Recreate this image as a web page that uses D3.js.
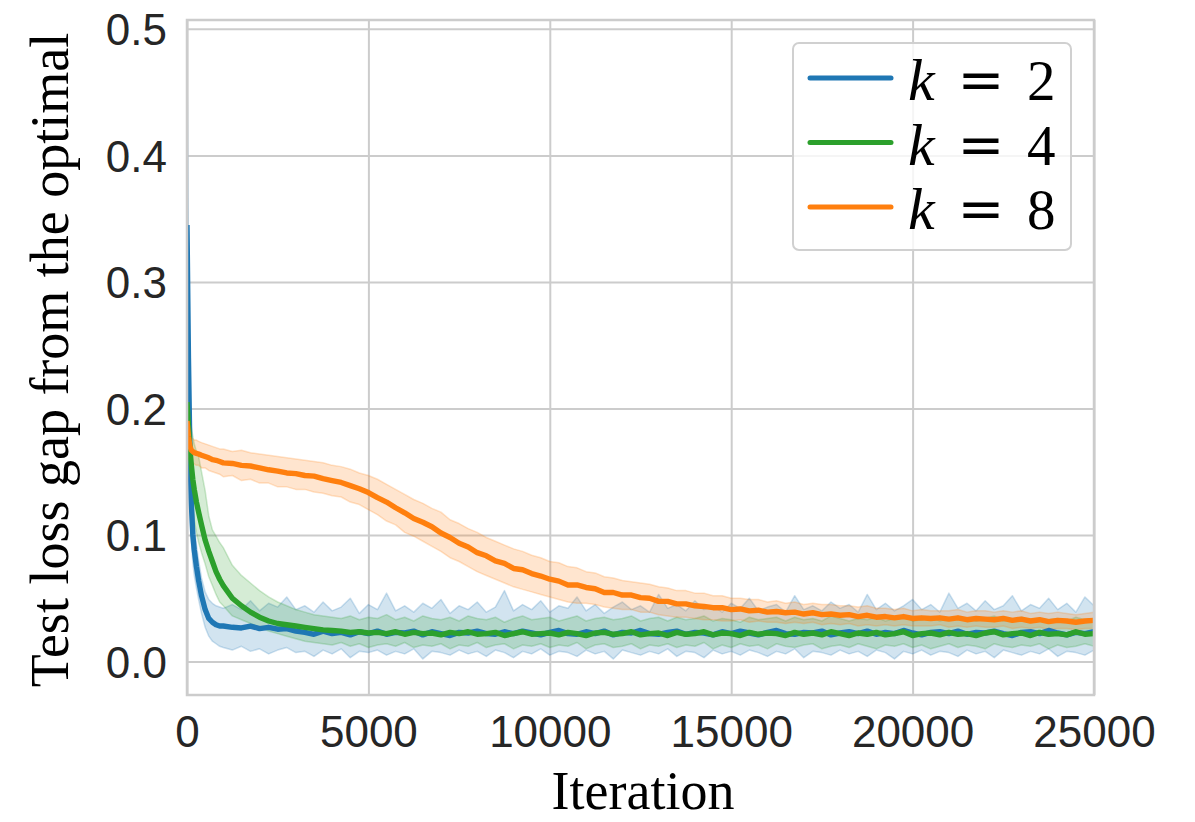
<!DOCTYPE html>
<html>
<head>
<meta charset="utf-8">
<script src="https://cdn.jsdelivr.net/npm/d3@7"></script>
<style>
  html, body { margin: 0; padding: 0; background: #ffffff; }
  svg { display: block; }
</style>
</head>
<body>
<svg id="chart" width="1195" height="822"></svg>
<script>
// ---- data -------------------------------------------------------------
const iterations = [
  0, 40, 80, 120, 160, 200, 260, 320, 400, 500, 600, 700, 800, 900,
  1000, 1250, 1500, 1750, 2000, 2250, 2500, 2750, 3000,
  3250, 3500, 3750, 4000, 4250, 4500, 4750, 5000,
  5250, 5500, 5750, 6000, 6250, 6500, 6750, 7000,
  7250, 7500, 7750, 8000, 8250, 8500, 8750, 9000,
  9250, 9500, 9750, 10000, 10250, 10500, 10750, 11000,
  11250, 11500, 11750, 12000, 12250, 12500, 12750, 13000,
  13250, 13500, 13750, 14000, 14250, 14500, 14750, 15000,
  15250, 15500, 15750, 16000, 16250, 16500, 16750, 17000,
  17250, 17500, 17750, 18000, 18250, 18500, 18750, 19000,
  19250, 19500, 19750, 20000, 20250, 20500, 20750, 21000,
  21250, 21500, 21750, 22000, 22250, 22500, 22750, 23000,
  23250, 23500, 23750, 24000, 24250, 24500, 24750, 25000
];

// k = 2: mean test-loss gap and its confidence band
const gapK2 = [
  0.345, 0.24, 0.165, 0.125, 0.100, 0.088, 0.075, 0.064, 0.052, 0.041, 0.034, 0.031, 0.029, 0.028,
  0.028, 0.027, 0.0265, 0.028, 0.026, 0.027, 0.0255, 0.026, 0.024,
  0.023, 0.0215, 0.024, 0.022, 0.023, 0.021, 0.0235, 0.022,
  0.024, 0.0215, 0.023, 0.0225, 0.024, 0.021, 0.0235, 0.022,
  0.0205, 0.023, 0.0225, 0.024, 0.022, 0.0215, 0.0235, 0.022,
  0.024, 0.0225, 0.021, 0.023, 0.0245, 0.022, 0.0215, 0.0235,
  0.022, 0.024, 0.021, 0.023, 0.0225, 0.0245, 0.022, 0.0215,
  0.023, 0.024, 0.0215, 0.023, 0.0225, 0.021, 0.0235, 0.022,
  0.024, 0.0225, 0.021, 0.023, 0.0245, 0.022, 0.0215, 0.023,
  0.0225, 0.024, 0.021, 0.0225, 0.0235, 0.022, 0.024, 0.0215,
  0.023, 0.022, 0.0245, 0.0225, 0.021, 0.023, 0.0235, 0.022,
  0.024, 0.0215, 0.023, 0.0225, 0.024, 0.022, 0.0205, 0.023,
  0.0235, 0.022, 0.0245, 0.0225, 0.021, 0.023, 0.022, 0.0235
];
const gapK2Lower = [
  0.21, 0.17, 0.12, 0.095, 0.078, 0.068, 0.058, 0.049, 0.038, 0.027, 0.020, 0.016, 0.014, 0.012,
  0.011, 0.009, 0.012, 0.008, 0.010, 0.006, 0.009, 0.011, 0.007,
  0.008, 0.004, 0.009, 0.006, 0.010, 0.003, 0.008, 0.007,
  0.009, 0.005, 0.008, 0.006, 0.010, 0.002, 0.008, 0.007,
  0.005, 0.009, 0.006, 0.008, 0.004, 0.009, 0.007, 0.003,
  0.008, 0.006, 0.010, 0.005, 0.008, 0.007, 0.004, 0.009,
  0.006, 0.008, 0.002, 0.009, 0.007, 0.005, 0.008, 0.006,
  0.010, 0.004, 0.008, 0.007, 0.003, 0.009, 0.006, 0.008,
  0.005, 0.009, 0.007, 0.004, 0.008, 0.006, 0.010, 0.003,
  0.008, 0.007, 0.005, 0.009, 0.006, 0.008, 0.004, 0.009,
  0.007, 0.002, 0.008, 0.006, 0.009, 0.005, 0.008, 0.007,
  0.004, 0.009, 0.006, 0.008, 0.003, 0.009, 0.007, 0.005,
  0.008, 0.006, 0.010, 0.004, 0.008, 0.007, 0.005, 0.009
];
const gapK2Upper = [
  0.48, 0.32, 0.22, 0.16, 0.125, 0.108, 0.092, 0.080, 0.066, 0.055, 0.049, 0.046, 0.044, 0.043,
  0.042, 0.045, 0.041, 0.048, 0.040, 0.046, 0.043, 0.051, 0.041,
  0.044, 0.039, 0.047, 0.040, 0.043, 0.050, 0.038, 0.045,
  0.041, 0.054, 0.040, 0.044, 0.039, 0.046, 0.042, 0.049,
  0.038, 0.044, 0.041, 0.047, 0.039, 0.043, 0.056, 0.040,
  0.045, 0.041, 0.048, 0.039, 0.044, 0.042, 0.051, 0.040,
  0.045, 0.038, 0.043, 0.047, 0.041, 0.044, 0.039, 0.053,
  0.042, 0.045, 0.040, 0.048, 0.041, 0.044, 0.039, 0.046,
  0.042, 0.050, 0.040, 0.043, 0.045, 0.039, 0.052, 0.041,
  0.044, 0.040, 0.047, 0.042, 0.045, 0.039, 0.053, 0.041,
  0.046, 0.040, 0.044, 0.049, 0.041, 0.045, 0.039, 0.054,
  0.042, 0.046, 0.040, 0.048, 0.041, 0.044, 0.052, 0.040,
  0.045, 0.042, 0.050, 0.041, 0.046, 0.039, 0.051, 0.044
];

// k = 4
const gapK4 = [
  0.205, 0.186, 0.168, 0.155, 0.144, 0.136, 0.126, 0.118, 0.108, 0.096, 0.087, 0.079, 0.071, 0.065,
  0.060, 0.050, 0.044, 0.039, 0.035, 0.032, 0.030, 0.029, 0.028,
  0.027, 0.026, 0.025, 0.0245, 0.024, 0.023, 0.0235, 0.0225,
  0.023, 0.022, 0.0235, 0.0215, 0.023, 0.022, 0.0225, 0.021,
  0.023, 0.022, 0.0235, 0.0215, 0.022, 0.023, 0.0205, 0.022,
  0.0235, 0.0215, 0.022, 0.0225, 0.021, 0.023, 0.022, 0.0205,
  0.0225, 0.023, 0.0215, 0.022, 0.0235, 0.021, 0.022, 0.0225,
  0.0205, 0.023, 0.0215, 0.022, 0.0235, 0.021, 0.0225, 0.022,
  0.0205, 0.023, 0.0215, 0.0225, 0.022, 0.0205, 0.023, 0.0215,
  0.0225, 0.021, 0.0235, 0.022, 0.0205, 0.0225, 0.0215, 0.023,
  0.021, 0.022, 0.0235, 0.0205, 0.022, 0.0225, 0.021, 0.023,
  0.0215, 0.022, 0.0205, 0.0225, 0.0235, 0.021, 0.022, 0.0225,
  0.0205, 0.023, 0.0215, 0.022, 0.021, 0.0235, 0.0215, 0.022
];
const gapK4Lower = [
  0.19, 0.17, 0.15, 0.135, 0.122, 0.112, 0.102, 0.094, 0.086, 0.077, 0.067, 0.060, 0.053, 0.047,
  0.044, 0.036, 0.033, 0.030, 0.027, 0.024, 0.022, 0.020, 0.018,
  0.016, 0.015, 0.014, 0.013, 0.015, 0.012, 0.014, 0.011,
  0.013, 0.014, 0.012, 0.015, 0.011, 0.013, 0.012, 0.014,
  0.010, 0.013, 0.012, 0.015, 0.011, 0.013, 0.014, 0.010,
  0.013, 0.012, 0.014, 0.011, 0.013, 0.012, 0.015, 0.010,
  0.013, 0.014, 0.011, 0.012, 0.014, 0.010, 0.013, 0.012,
  0.014, 0.011, 0.013, 0.012, 0.015, 0.010, 0.013, 0.011,
  0.014, 0.012, 0.013, 0.010, 0.014, 0.012, 0.011, 0.013,
  0.014, 0.010, 0.012, 0.013, 0.011, 0.014, 0.012, 0.010,
  0.013, 0.012, 0.014, 0.011, 0.013, 0.010, 0.012, 0.014,
  0.011, 0.013, 0.012, 0.010, 0.014, 0.012, 0.011, 0.013,
  0.012, 0.014, 0.010, 0.013, 0.011, 0.012, 0.014, 0.012
];
const gapK4Upper = [
  0.215, 0.205, 0.195, 0.185, 0.178, 0.172, 0.166, 0.162, 0.150, 0.135, 0.115, 0.104, 0.099, 0.094,
  0.090, 0.076, 0.068, 0.062, 0.056, 0.051, 0.047, 0.044, 0.041,
  0.039, 0.037, 0.036, 0.035, 0.034, 0.036, 0.033, 0.035,
  0.034, 0.037, 0.033, 0.035, 0.032, 0.036, 0.034, 0.033,
  0.035, 0.032, 0.036, 0.034, 0.033, 0.035, 0.031, 0.034,
  0.036, 0.033, 0.034, 0.035, 0.032, 0.034, 0.036, 0.032,
  0.034, 0.035, 0.033, 0.034, 0.036, 0.032, 0.034, 0.035,
  0.032, 0.035, 0.033, 0.034, 0.036, 0.032, 0.034, 0.033,
  0.031, 0.035, 0.033, 0.034, 0.035, 0.032, 0.035, 0.033,
  0.034, 0.032, 0.036, 0.034, 0.032, 0.034, 0.033, 0.035,
  0.032, 0.034, 0.036, 0.032, 0.033, 0.035, 0.032, 0.034,
  0.033, 0.034, 0.032, 0.034, 0.036, 0.032, 0.033, 0.035,
  0.032, 0.034, 0.033, 0.034, 0.032, 0.035, 0.033, 0.034
];

// k = 8
const gapK8 = [
  0.190, 0.178, 0.170, 0.167, 0.166, 0.165, 0.1645, 0.164, 0.163, 0.162, 0.161, 0.1595, 0.159, 0.158,
  0.157, 0.1565, 0.155, 0.1545, 0.153, 0.1515, 0.1505, 0.149, 0.1485,
  0.147, 0.1465, 0.1445, 0.143, 0.1415, 0.139, 0.1365, 0.1335,
  0.1295, 0.126, 0.1215, 0.1175, 0.113, 0.110, 0.1065, 0.1015,
  0.098, 0.0935, 0.0905, 0.086, 0.0835, 0.0795, 0.0775, 0.0735,
  0.0725, 0.0695, 0.0675, 0.065, 0.0635, 0.0605, 0.0605, 0.0585,
  0.0575, 0.0545, 0.0545, 0.0525, 0.0525, 0.0505, 0.050, 0.0475,
  0.0475, 0.0455, 0.0455, 0.044, 0.0435, 0.0425, 0.0425, 0.041,
  0.0415, 0.040, 0.0405, 0.039, 0.0395, 0.0385, 0.039, 0.0375,
  0.0385, 0.037, 0.0375, 0.0365, 0.037, 0.0355, 0.0365, 0.035,
  0.0355, 0.0345, 0.0355, 0.034, 0.0345, 0.034, 0.0345, 0.0335,
  0.0345, 0.033, 0.034, 0.0335, 0.033, 0.034, 0.0325, 0.0335,
  0.032, 0.033, 0.0315, 0.0325, 0.032, 0.031, 0.032, 0.0325
];
const gapK8Lower = [
  0.180, 0.169, 0.161, 0.158, 0.157, 0.156, 0.155, 0.155, 0.153, 0.153, 0.151, 0.150, 0.149, 0.148,
  0.146, 0.147, 0.143, 0.144, 0.141, 0.141, 0.138, 0.138, 0.136,
  0.136, 0.134, 0.133, 0.131, 0.130, 0.126, 0.124, 0.120,
  0.116, 0.111, 0.108, 0.102, 0.099, 0.095, 0.091, 0.087,
  0.082, 0.079, 0.075, 0.071, 0.068, 0.065, 0.062, 0.059,
  0.057, 0.055, 0.053, 0.051, 0.049, 0.047, 0.046, 0.046,
  0.045, 0.043, 0.042, 0.041, 0.041, 0.039, 0.039, 0.037,
  0.036, 0.035, 0.035, 0.034, 0.033, 0.033, 0.032, 0.032,
  0.033, 0.031, 0.032, 0.031, 0.031, 0.030, 0.031, 0.030,
  0.031, 0.029, 0.030, 0.029, 0.030, 0.028, 0.029, 0.028,
  0.029, 0.028, 0.029, 0.028, 0.028, 0.028, 0.029, 0.027,
  0.028, 0.027, 0.028, 0.027, 0.027, 0.028, 0.026, 0.027,
  0.026, 0.027, 0.025, 0.026, 0.026, 0.025, 0.026, 0.026
];
const gapK8Upper = [
  0.200, 0.188, 0.180, 0.177, 0.176, 0.175, 0.175, 0.174, 0.173, 0.172, 0.171, 0.170, 0.169, 0.168,
  0.168, 0.166, 0.167, 0.165, 0.164, 0.163, 0.162, 0.161, 0.160,
  0.159, 0.158, 0.157, 0.155, 0.154, 0.152, 0.149, 0.147,
  0.144, 0.140, 0.136, 0.132, 0.128, 0.125, 0.121, 0.118,
  0.112, 0.109, 0.105, 0.102, 0.098, 0.095, 0.092, 0.089,
  0.087, 0.084, 0.082, 0.079, 0.078, 0.075, 0.074, 0.071,
  0.070, 0.067, 0.066, 0.064, 0.063, 0.062, 0.061, 0.059,
  0.058, 0.056, 0.056, 0.054, 0.054, 0.052, 0.052, 0.050,
  0.050, 0.049, 0.049, 0.047, 0.048, 0.046, 0.047, 0.045,
  0.046, 0.045, 0.045, 0.044, 0.044, 0.043, 0.044, 0.042,
  0.042, 0.041, 0.042, 0.040, 0.041, 0.040, 0.040, 0.040,
  0.041, 0.039, 0.040, 0.040, 0.039, 0.040, 0.039, 0.040,
  0.038, 0.039, 0.038, 0.039, 0.038, 0.037, 0.038, 0.039
];

const kValues = [2, 4, 8];
const xTicks = [0, 5000, 10000, 15000, 20000, 25000];
const yTicks = [0.0, 0.1, 0.2, 0.3, 0.4, 0.5];
const xLabel = "Iteration";
const yLabel = "Test loss gap from the optimal";

// ---- styling ----------------------------------------------------------
const palette = ["#1f77b4", "#2ca02c", "#ff7f0e"];
const gridColor = "#cccccc";
const textColor = "#262626";

const series = [
  { k: kValues[0], mean: gapK2, lower: gapK2Lower, upper: gapK2Upper, color: palette[0] },
  { k: kValues[1], mean: gapK4, lower: gapK4Lower, upper: gapK4Upper, color: palette[1] },
  { k: kValues[2], mean: gapK8, lower: gapK8Lower, upper: gapK8Upper, color: palette[2] }
];

// ---- layout -----------------------------------------------------------
const plot = { left: 187, right: 1094, top: 20, bottom: 695 };

const x = d3.scaleLinear().domain([0, 25000]).range([plot.left, plot.right]);
const y = d3.scaleLinear().domain([-0.0265, 0.507]).range([plot.bottom, plot.top]);

const svg = d3.select("#chart");

svg.append("defs").append("clipPath").attr("id", "plot-clip")
  .append("rect")
  .attr("x", plot.left).attr("y", plot.top)
  .attr("width", plot.right - plot.left).attr("height", plot.bottom - plot.top);

// grid
const grid = svg.append("g");
grid.append("g")
  .attr("transform", `translate(0,${plot.bottom})`)
  .call(d3.axisBottom(x).tickValues(xTicks).tickSize(-(plot.bottom - plot.top)).tickFormat(""))
  .call(g => g.select(".domain").remove())
  .call(g => g.selectAll("line").attr("stroke", gridColor).attr("stroke-width", 2));
grid.append("g")
  .attr("transform", `translate(${plot.left},0)`)
  .call(d3.axisLeft(y).tickValues(yTicks).tickSize(-(plot.right - plot.left)).tickFormat(""))
  .call(g => g.select(".domain").remove())
  .call(g => g.selectAll("line").attr("stroke", gridColor).attr("stroke-width", 2));

// confidence bands (all below) then mean lines
const idx = d3.range(d3.min([iterations.length].concat(series.flatMap(s => [s.mean.length, s.lower.length, s.upper.length]))));
const marks = svg.append("g").attr("clip-path", "url(#plot-clip)");

const bandLayer = marks.append("g");
const lineLayer = marks.append("g");

series.forEach(s => {
  const area = d3.area()
    .x(i => x(iterations[i]))
    .y0(i => y(s.lower[i]))
    .y1(i => y(s.upper[i]));
  bandLayer.append("path")
    .attr("d", area(idx))
    .attr("fill", s.color)
    .attr("fill-opacity", 0.2)
    .attr("stroke", s.color)
    .attr("stroke-opacity", 0.22)
    .attr("stroke-width", 1.5)
    .attr("stroke-linejoin", "round");
});

series.forEach(s => {
  const line = d3.line()
    .x(i => x(iterations[i]))
    .y(i => y(s.mean[i]));
  lineLayer.append("path")
    .attr("d", line(idx))
    .attr("fill", "none")
    .attr("stroke", s.color)
    .attr("stroke-width", 5.4)
    .attr("stroke-linejoin", "round")
    .attr("stroke-linecap", "butt");
});

// frame
svg.append("rect")
  .attr("x", plot.left).attr("y", plot.top)
  .attr("width", plot.right - plot.left).attr("height", plot.bottom - plot.top)
  .attr("fill", "none").attr("stroke", gridColor).attr("stroke-width", 2.5);

// tick labels
svg.append("g")
  .attr("transform", `translate(0,${plot.bottom})`)
  .call(d3.axisBottom(x).tickValues(xTicks).tickSize(0).tickPadding(21).tickFormat(d3.format("d")))
  .call(g => g.select(".domain").remove())
  .call(g => g.selectAll("text")
    .attr("font-family", "'Liberation Sans', Arial, sans-serif")
    .attr("font-size", 44)
    .attr("fill", textColor));

svg.append("g")
  .attr("transform", `translate(${plot.left},0)`)
  .call(d3.axisLeft(y).tickValues(yTicks).tickSize(0).tickPadding(20).tickFormat(d3.format(".1f")))
  .call(g => g.select(".domain").remove())
  .call(g => g.selectAll("text")
    .attr("dy", "0.36em")
    .attr("font-family", "'Liberation Sans', Arial, sans-serif")
    .attr("font-size", 44)
    .attr("fill", textColor));

// axis titles
svg.append("text")
  .attr("x", 643).attr("y", 809)
  .attr("text-anchor", "middle")
  .attr("font-family", "'Liberation Serif', 'Times New Roman', serif")
  .attr("font-size", 54)
  .attr("fill", "#000")
  .text(xLabel);

svg.append("text")
  .attr("transform", "translate(68,360) rotate(-90)")
  .attr("text-anchor", "middle")
  .attr("font-family", "'Liberation Serif', 'Times New Roman', serif")
  .attr("font-size", 54)
  .attr("fill", "#000")
  .text(yLabel);

// legend
const legend = svg.append("g").attr("transform", "translate(793,43)");
legend.append("rect")
  .attr("x", 0).attr("y", 0).attr("width", 278).attr("height", 207)
  .attr("rx", 6).attr("ry", 6)
  .attr("fill", "#ffffff").attr("fill-opacity", 0.8)
  .attr("stroke", "#d0d0d0").attr("stroke-width", 2);

series.forEach((s, i) => {
  const row = legend.append("g").attr("transform", `translate(0,${35 + i * 64.5})`);
  row.append("line")
    .attr("x1", 17).attr("x2", 98).attr("y1", 0).attr("y2", 0)
    .attr("stroke", s.color).attr("stroke-width", 5).attr("stroke-linecap", "round");
  row.append("text")
    .attr("x", 115).attr("y", 22)
    .attr("font-family", "'Liberation Serif', 'Times New Roman', serif")
    .attr("font-style", "italic")
    .attr("font-size", 60)
    .attr("fill", "#000")
    .text("k");
  row.append("text")
    .attr("x", 188).attr("y", 21)
    .attr("text-anchor", "middle")
    .attr("font-family", "'DejaVu Serif', serif")
    .attr("font-size", 56)
    .attr("fill", "#000")
    .text("=");
  row.append("text")
    .attr("x", 234).attr("y", 22)
    .attr("font-family", "'Liberation Serif', 'Times New Roman', serif")
    .attr("font-size", 57)
    .attr("fill", "#000")
    .text(String(s.k));
});
</script>
</body>
</html>
